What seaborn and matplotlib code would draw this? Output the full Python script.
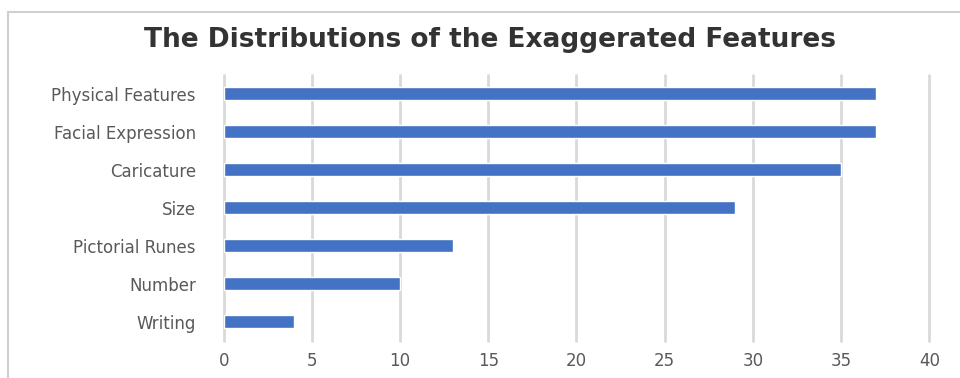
import matplotlib
matplotlib.use("Agg")
import matplotlib.pyplot as plt
import seaborn as sns
import pandas as pd
from matplotlib.patches import Rectangle

features = ["Physical Features", "Facial Expression", "Caricature", "Size",
            "Pictorial Runes", "Number", "Writing"]
counts = [37, 37, 35, 29, 13, 10, 4]
x_ticks = [0, 5, 10, 15, 20, 25, 30, 35, 40]

df = pd.DataFrame({"feature": features, "count": counts})

sns.set_theme(style="white")
plt.rcParams["font.family"] = ["DejaVu Sans"]

fig = plt.figure(figsize=(9.6, 3.78), dpi=100)
ax = fig.add_axes([0.233, 0.098, 0.735, 0.704])

sns.barplot(data=df, x="count", y="feature", orient="h", color="#4472C4",
            saturation=1, width=0.34, ax=ax)

ax.set_xlim(0, 40)
ax.set_ylim(6.5, -0.5)
ax.set_xticks(x_ticks)
ax.set_xticklabels([str(t) for t in x_ticks])
ax.xaxis.grid(True, color="#d9d9d9", linewidth=2)
for gl in ax.xaxis.get_gridlines():
    gl.set_clip_on(False)
ax.set_axisbelow(True)
for s in ax.spines.values():
    s.set_visible(False)
ax.tick_params(axis="both", length=0, colors="#595959", labelsize=12)
ax.tick_params(axis="x", pad=8)
ax.tick_params(axis="y", pad=20)
ax.set_xlabel("")
ax.set_ylabel("")

fig.text(0.51, 0.893, "The Distributions of the Exaggerated Features",
         ha="center", va="center", fontsize=19, fontweight="bold", color="#333333")

# chart frame
fig.patches.append(Rectangle((0.008, -0.05), 1.05, 1.018, transform=fig.transFigure,
                             fill=False, edgecolor="#d0d0d0", linewidth=1.5))

fig.savefig("out.png", dpi=100)
